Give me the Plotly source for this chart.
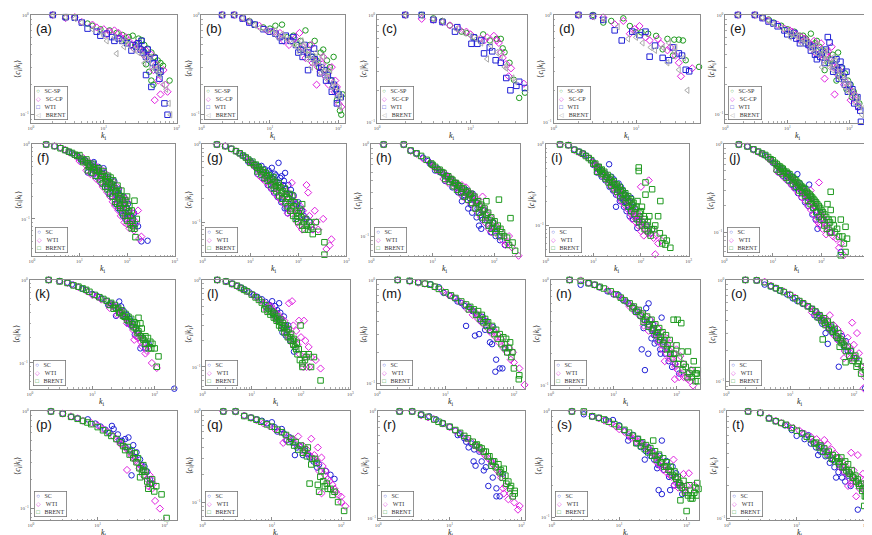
import plotly.graph_objects as go

W, H = 872, 535

# ---- data: (k_i, <c_i|k_i>) ----
# row 1: SC-SP, SC-CP, WTI, BRENT
a_scsp = [(2,1),(3,0.95),(4,0.94),(6,0.82),(7,0.78),(9,0.72),(12,0.7),(15,0.66),(18,0.63),(22,0.6),(25,0.62),(30,0.58),(33,0.56),(36,0.5),(40,0.46),(45,0.42),(50,0.38),(55,0.35),(60,0.33),(65,0.31),(42,0.27),(45,0.22),(48,0.2),(58,0.26),(80,0.22),(38,0.32),(20,0.55),(27,0.5),(35,0.44),(52,0.3)]
a_sccp = [(2,1),(3,0.93),(4,0.95),(5,0.85),(7,0.8),(8,0.75),(10,0.72),(12,0.68),(14,0.7),(17,0.6),(20,0.6),(24,0.5),(28,0.52),(32,0.45),(35,0.4),(40,0.38),(45,0.4),(52,0.32),(56,0.22),(60,0.16),(70,0.2),(75,0.17),(66,0.28),(50,0.14),(30,0.47),(11,0.64),(16,0.66),(22,0.55),(26,0.46),(38,0.44),(48,0.28)]
a_wti = [(2,1),(3,0.95),(4,0.94),(5,0.84),(6,0.73),(8,0.68),(9,0.62),(11,0.65),(13,0.6),(16,0.58),(18,0.55),(21,0.52),(25,0.5),(28,0.48),(30,0.52),(32,0.45),(35,0.42),(38,0.38),(42,0.36),(47,0.33),(52,0.3),(55,0.28),(38,0.25),(60,0.27),(45,0.19),(68,0.13),(75,0.1),(14,0.55),(24,0.44),(33,0.55),(40,0.45),(50,0.37),(58,0.23)]
a_brent = [(2,1),(3,0.95),(4,0.92),(5,0.84),(7,0.72),(9,0.68),(11,0.55),(14,0.6),(17,0.55),(19,0.48),(22,0.5),(26,0.45),(30,0.42),(34,0.4),(38,0.37),(42,0.35),(46,0.3),(52,0.28),(58,0.25),(65,0.2),(72,0.18),(78,0.13),(82,0.1),(15,0.41),(10,0.62),(20,0.56),(28,0.48),(36,0.33),(44,0.38),(55,0.3)]

b_scsp = [(2,1),(3,1),(4,0.93),(5,0.87),(6,0.8),(8,0.75),(10,0.73),(12,0.78),(15,0.8),(18,0.6),(22,0.62),(28,0.55),(30,0.45),(33,0.7),(38,0.5),(42,0.38),(45,0.55),(52,0.3),(55,0.42),(60,0.45),(68,0.35),(72,0.27),(80,0.22),(85,0.38),(90,0.18),(95,0.14),(105,0.11),(115,0.16),(110,0.1),(25,0.5),(35,0.4),(48,0.35),(65,0.28),(75,0.3)]
b_sccp = [(2,1),(3,1),(4,0.93),(5,0.85),(7,0.78),(9,0.7),(11,0.68),(13,0.62),(16,0.55),(19,0.5),(23,0.58),(27,0.66),(30,0.48),(35,0.42),(40,0.5),(45,0.35),(50,0.3),(55,0.27),(60,0.38),(65,0.24),(72,0.2),(80,0.3),(88,0.17),(95,0.19),(100,0.13),(110,0.12),(48,0.2),(14,0.66),(21,0.55),(33,0.37),(42,0.33),(58,0.32),(70,0.26),(90,0.22)]
b_wti = [(2,1),(3,1),(4,0.92),(5,0.84),(6,0.8),(8,0.72),(10,0.68),(12,0.65),(14,0.6),(17,0.62),(20,0.55),(24,0.5),(28,0.45),(32,0.5),(36,0.42),(40,0.38),(44,0.46),(50,0.33),(56,0.3),(62,0.28),(70,0.25),(78,0.22),(85,0.2),(92,0.18),(100,0.16),(108,0.15),(36,0.28),(15,0.55),(22,0.6),(26,0.42),(30,0.38),(45,0.36),(54,0.26),(66,0.22),(80,0.17),(95,0.13)]
b_brent = [(2,1),(3,1),(4,0.93),(5,0.86),(6,0.79),(7,0.74),(9,0.7),(11,0.66),(13,0.6),(15,0.64),(18,0.57),(21,0.52),(25,0.48),(29,0.55),(33,0.44),(37,0.4),(42,0.36),(47,0.42),(52,0.34),(58,0.3),(63,0.27),(70,0.24),(76,0.28),(84,0.21),(92,0.19),(100,0.17),(110,0.15),(40,0.3),(60,0.38),(12,0.7),(16,0.6),(23,0.5),(27,0.42),(31,0.5),(35,0.36),(45,0.33),(55,0.26),(66,0.23),(80,0.19),(95,0.15),(105,0.12)]

c_scsp = [(2,1),(3,1),(4,0.93),(5,0.88),(6,0.8),(8,0.7),(9,0.68),(11,0.62),(13.6,0.66),(16,0.58),(19,0.6),(21,0.6),(22,0.49),(23,0.45),(26,0.36),(29,0.25),(33,0.17),(38,0.19)]
c_sccp = [(2,1),(3,0.92),(4,0.9),(5,0.86),(6,0.8),(7.5,0.74),(9,0.7),(10,0.66),(12.7,0.6),(14,0.58),(15,0.62),(17.7,0.64),(19,0.58),(20,0.55),(21,0.45),(22,0.4),(24,0.35),(25.5,0.27),(27,0.32),(37,0.23)]
c_wti = [(2,1),(3,1),(4,0.9),(5,0.86),(6.8,0.7),(7.2,0.77),(10.2,0.54),(10.8,0.62),(11.8,0.54),(13,0.58),(13.9,0.44),(16,0.5),(17,0.46),(18.5,0.38),(21,0.36),(24,0.26),(26.6,0.2),(30.8,0.22),(33,0.24),(38,0.21)]
c_brent = [(2,1),(3,0.98),(4,0.92),(5,0.87),(7,0.74),(8.5,0.68),(10,0.64),(11.5,0.6),(13,0.55),(15,0.39),(16.5,0.52),(19,0.45),(21,0.42),(23,0.33),(24,0.32),(28,0.26),(30,0.24)]

d_scsp = [(2,1),(3,1),(4,0.85),(5,0.88),(7,0.93),(8.4,0.79),(9.9,0.69),(11.6,0.69),(14,0.67),(17.5,0.64),(21,0.48),(24,0.6),(29,0.59),(33,0.59),(37,0.58),(40,0.38),(58,0.33),(28,0.42)]
d_sccp = [(2,1),(3,0.97),(4,0.95),(5.5,0.82),(7,0.88),(8.4,0.67),(9.6,0.74),(11,0.79),(13,0.62),(14.6,0.58),(18.4,0.6),(20,0.54),(24,0.47),(30,0.42),(33,0.36),(35,0.27),(48,0.32),(26,0.5)]
d_wti = [(2,1),(3,0.98),(4,0.9),(5.5,0.72),(6.7,0.58),(9,0.7),(11,0.65),(13,0.7),(14.6,0.41),(17,0.52),(21,0.4),(25,0.38),(28,0.5),(33,0.44),(36,0.42),(40,0.31),(44,0.3)]
d_brent = [(2,1),(3,0.96),(4,0.91),(6,0.78),(8,0.6),(10,0.62),(12,0.55),(15,0.5),(17,0.47),(21,0.5),(24,0.36),(25,0.55),(29,0.45),(30,0.5),(33,0.31),(38,0.4),(42,0.2)]

e_scsp = [(1.6,1),(3,1),(4,0.95),(5,0.9),(6,0.84),(8,0.78),(10,0.72),(13,0.68),(16,0.62),(20,0.58),(24,0.65),(28,0.52),(33,0.48),(38,0.44),(44,0.4),(50,0.36),(58,0.32),(66,0.42),(75,0.3),(85,0.26),(95,0.22),(105,0.2),(118,0.17),(130,0.15),(145,0.13),(40,0.28),(62,0.22),(12,0.64),(18,0.62),(22,0.52),(30,0.55),(36,0.4),(46,0.33),(54,0.4),(70,0.25),(90,0.18),(110,0.15)]
e_sccp = [(1.6,1),(3,1),(4,0.94),(5,0.88),(7,0.8),(9,0.73),(11,0.7),(14,0.64),(17,0.6),(21,0.55),(25,0.5),(30,0.46),(35,0.52),(40,0.23),(42,0.4),(48,0.37),(52,0.48),(58,0.16),(62,0.3),(70,0.28),(78,0.25),(88,0.21),(98,0.19),(110,0.17),(125,0.14),(140,0.12),(28,0.42),(12,0.68),(16,0.56),(19,0.58),(23,0.48),(27,0.55),(33,0.4),(38,0.36),(45,0.43),(55,0.3),(66,0.25),(82,0.2),(105,0.14),(120,0.16)]
e_wti = [(1.6,1),(3,1),(4,0.93),(5,0.86),(6,0.82),(7,0.77),(9,0.7),(12,0.62),(14,0.58),(18,0.56),(22,0.5),(26,0.48),(31,0.44),(36,0.42),(45,0.6),(48,0.53),(52,0.35),(58,0.31),(65,0.28),(72,0.34),(80,0.24),(90,0.27),(100,0.2),(112,0.18),(125,0.15),(140,0.12),(154,0.085),(30,0.36),(10,0.64),(13,0.66),(16,0.52),(20,0.52),(24,0.44),(28,0.4),(34,0.38),(40,0.33),(42,0.45),(55,0.27),(62,0.36),(68,0.23),(76,0.29),(85,0.2),(95,0.17),(120,0.13),(135,0.15),(150,0.11)]
e_brent = [(1.6,1),(3,1),(4,0.94),(5,0.87),(6,0.81),(8,0.74),(10,0.68),(12,0.65),(15,0.6),(18,0.56),(22,0.52),(26,0.47),(30,0.5),(35,0.44),(40,0.4),(45,0.36),(50,0.33),(56,0.38),(62,0.3),(70,0.27),(80,0.25),(90,0.22),(100,0.2),(115,0.17),(130,0.15),(150,0.12),(215,0.1),(36,0.3),(11,0.6),(14,0.62),(17,0.52),(20,0.55),(24,0.46),(28,0.42),(32,0.4),(38,0.35),(42,0.44),(48,0.3),(54,0.28),(60,0.35),(66,0.25),(75,0.22),(85,0.19),(95,0.17),(110,0.15),(125,0.13),(140,0.14),(160,0.1),(180,0.12)]

# rows 2-4: SC, WTI, BRENT
f_sc = [(2,1),(3,0.95),(4,0.9),(5,0.84),(6,0.8),(7,0.76),(8,0.72),(10,0.66),(12,0.6),(14,0.57),(17,0.53),(20,0.5),(23,0.46),(26,0.44),(30,0.4),(35,0.34),(40,0.36),(45,0.3),(50,0.27),(54,0.32),(60,0.24),(70,0.21),(80,0.18),(90,0.16),(100,0.14),(110,0.12),(120,0.11),(135,0.1),(150,0.085),(200,0.05),(270,0.051),(450,0.031),(38,0.27),(65,0.18),(9,0.7),(11,0.6),(13,0.62),(16,0.5),(18,0.56),(22,0.44),(25,0.5),(28,0.38),(33,0.42),(37,0.31),(43,0.34),(47,0.25),(52,0.29),(58,0.21),(67,0.25),(75,0.16),(85,0.2),(95,0.12),(105,0.16),(125,0.09),(140,0.12),(170,0.08)] + \
       [(15,0.42),(19,0.4),(24,0.36),(29,0.3),(34,0.27),(41,0.22),(48,0.2),(56,0.16),(64,0.14),(72,0.13),(82,0.11),(92,0.1),(32,0.48),(20,0.58)]
f_wti = [(2,1),(3,0.95),(4,0.9),(5,0.85),(6,0.79),(8,0.72),(9,0.68),(11,0.62),(13,0.58),(15,0.55),(18,0.5),(21,0.48),(24,0.44),(28,0.42),(32,0.38),(36,0.33),(42,0.3),(48,0.28),(55,0.25),(62,0.22),(70,0.2),(78,0.17),(85,0.15),(95,0.13),(105,0.11),(115,0.09),(125,0.08),(140,0.07),(170,0.13),(180,0.054),(200,0.058),(58,0.16),(90,0.19),(10,0.6),(12,0.66),(14,0.52),(16,0.58),(19,0.46),(23,0.5),(26,0.4),(30,0.45),(34,0.35),(38,0.39),(45,0.27),(52,0.31),(60,0.2),(66,0.26),(75,0.14),(82,0.2),(92,0.11),(100,0.17),(110,0.13),(120,0.1),(130,0.12),(155,0.09)] + \
        [(14,0.45),(17,0.4),(22,0.35),(27,0.31),(31,0.27),(38,0.23),(44,0.2),(50,0.17),(56,0.15),(66,0.13),(74,0.11),(88,0.09),(100,0.085),(112,0.075)]
f_brent = [(2,1),(3,0.95),(4,0.89),(5,0.84),(6,0.8),(7,0.77),(8,0.73),(9,0.7),(11,0.64),(13,0.6),(15,0.56),(17,0.52),(20,0.49),(23,0.46),(26,0.43),(30,0.4),(34,0.37),(38,0.34),(43,0.31),(48,0.29),(54,0.26),(60,0.24),(66,0.22),(73,0.2),(80,0.18),(88,0.16),(97,0.14),(107,0.125),(118,0.11),(130,0.095),(143,0.074),(150,0.057),(143,0.176),(70,0.15),(45,0.36),(100,0.2),(10,0.72),(12,0.58),(14,0.63),(16,0.5),(19,0.55),(21,0.45),(25,0.48),(28,0.38),(32,0.44),(36,0.32),(40,0.38),(46,0.27),(51,0.33),(57,0.23),(63,0.28),(69,0.19),(76,0.24),(84,0.14),(92,0.18),(103,0.11),(112,0.15),(125,0.13),(160,0.1),(135,0.08)] + \
          [(15,0.45),(18,0.42),(22,0.38),(27,0.34),(31,0.3),(35,0.27),(39,0.25),(44,0.22),(50,0.2),(56,0.17),(62,0.16),(72,0.14),(80,0.12),(90,0.11),(100,0.095),(115,0.085),(125,0.075)]

g_sc = [(2,1),(3,0.96),(4,0.88),(5,0.82),(6,0.77),(7,0.72),(8,0.68),(10,0.62),(12.7,0.55),(15,0.52),(17,0.53),(20,0.48),(24,0.46),(28,0.5),(32,0.42),(38.6,0.58),(42,0.37),(45,0.39),(50,0.34),(53,0.43),(57,0.15),(62,0.3),(70,0.26),(80,0.22),(92,0.11),(100,0.18),(120,0.14),(150,0.11),(200,0.08),(35,0.33),(26,0.36),(9,0.6),(11,0.58),(13,0.5),(16,0.48),(18,0.44),(22,0.41),(26,0.42),(30,0.36),(34,0.4),(40,0.32),(48,0.3),(55,0.27),(66,0.23),(75,0.19),(90,0.17),(110,0.15),(130,0.12),(170,0.1)] + \
       [(14,0.42),(19,0.36),(23,0.3),(27,0.27),(31,0.24),(37,0.21),(44,0.18),(52,0.15),(60,0.13),(47,0.2)]
g_wti = [(2,1),(3,0.95),(4,0.88),(5,0.82),(6,0.76),(8,0.68),(10,0.6),(12,0.55),(14,0.5),(17,0.46),(20,0.42),(24,0.38),(28,0.34),(33,0.3),(38,0.28),(45,0.25),(55,0.22),(65,0.2),(73,0.32),(85,0.17),(100,0.14),(115,0.12),(130,0.1),(148,0.3),(160,0.24),(180,0.09),(220,0.14),(260,0.08),(330,0.11),(385,0.045),(450,0.05),(490,0.06),(60,0.13),(9,0.62),(11,0.55),(13,0.5),(16,0.44),(19,0.4),(22,0.36),(26,0.33),(30,0.35),(35,0.27),(42,0.3),(50,0.22),(58,0.25),(70,0.17),(78,0.21),(90,0.13),(110,0.16),(125,0.14),(140,0.11),(170,0.12),(200,0.08),(240,0.1)] + \
        [(15,0.4),(18,0.36),(21,0.33),(25,0.29),(29,0.26),(33,0.23),(38,0.21),(44,0.19),(52,0.17),(62,0.15),(72,0.13),(95,0.1),(105,0.09),(120,0.08)]
g_brent = [(2,1),(3,0.95),(4,0.88),(5,0.82),(6,0.77),(7,0.72),(8,0.68),(9,0.64),(11,0.6),(13,0.55),(15,0.51),(18,0.47),(21,0.43),(24,0.4),(28,0.36),(32,0.33),(37,0.3),(42,0.28),(48,0.25),(55,0.23),(62,0.2),(70,0.18),(80,0.16),(90,0.14),(102,0.13),(115,0.115),(130,0.1),(150,0.09),(185,0.086),(230,0.1),(260,0.075),(350,0.055),(350,0.038),(75,0.22),(120,0.17),(10,0.58),(12,0.54),(14,0.5),(16,0.47),(19,0.44),(22,0.39),(26,0.35),(30,0.38),(34,0.29),(39,0.32),(45,0.24),(52,0.27),(58,0.21),(66,0.23),(72,0.15),(85,0.18),(95,0.12),(110,0.14),(140,0.11),(160,0.08),(200,0.07),(170,0.1)] + \
          [(14,0.45),(17,0.41),(20,0.37),(23,0.34),(27,0.3),(31,0.27),(35,0.25),(40,0.22),(46,0.2),(54,0.18),(60,0.16),(68,0.14),(78,0.12),(88,0.11),(100,0.1),(120,0.09),(135,0.08)]

h_sc = [(1.6,1),(3.4,1),(4.4,0.86),(5.5,0.8),(7,0.72),(8.5,0.66),(10,0.6),(12,0.55),(14,0.5),(17,0.46),(20,0.42),(24,0.38),(27,0.35),(31,0.27),(35,0.32),(40,0.26),(45,0.29),(50,0.24),(54,0.2),(57,0.13),(60,0.17),(70,0.19),(78,0.157),(88,0.11),(95,0.14),(106,0.1),(125,0.09),(150,0.08),(9,0.62),(11,0.52),(13,0.5),(15,0.47),(18,0.42),(22,0.38),(25,0.34),(29,0.3),(33,0.28),(37,0.3),(42,0.22),(47,0.25),(65,0.15),(80,0.13),(100,0.12)] + \
       [(16,0.4),(21,0.34),(26,0.3),(30,0.24),(38,0.2),(44,0.18),(52,0.16),(62,0.12)]
h_wti = [(1.6,1),(3.4,1),(4.4,0.85),(5.5,0.79),(7,0.7),(9,0.63),(11,0.56),(13,0.52),(16,0.48),(19,0.44),(22,0.4),(26,0.37),(30,0.36),(35,0.34),(40,0.3),(46,0.28),(52,0.25),(60,0.22),(68,0.2),(78,0.18),(88,0.16),(100,0.14),(115,0.125),(130,0.11),(153,0.08),(175,0.1),(196,0.075),(250,0.061),(65,0.27),(10,0.58),(12,0.52),(14,0.5),(17,0.44),(20,0.4),(24,0.36),(28,0.33),(32,0.3),(37,0.28),(43,0.27),(49,0.24),(56,0.22),(64,0.19),(72,0.17),(83,0.15),(95,0.13),(108,0.12),(120,0.1),(140,0.09),(160,0.085)] + \
        [(15,0.42),(18,0.38),(23,0.34),(27,0.3),(31,0.27),(36,0.25),(42,0.23),(48,0.2),(55,0.18),(62,0.16),(72,0.14),(82,0.12),(92,0.11)]
h_brent = [(1.6,1),(3.4,1),(4.4,0.86),(5.5,0.8),(6.5,0.75),(8,0.68),(9.5,0.62),(11,0.57),(13,0.53),(15,0.49),(18,0.45),(21,0.41),(24,0.38),(28,0.35),(32,0.33),(37,0.31),(42,0.29),(48,0.27),(55,0.24),(62,0.22),(70,0.2),(80,0.18),(90,0.16),(102,0.145),(115,0.13),(127,0.12),(145,0.1),(163,0.096),(185,0.157),(200,0.085),(220,0.069),(120,0.25),(75,0.24),(10,0.6),(12,0.53),(14,0.5),(17,0.45),(20,0.42),(23,0.38),(26,0.36),(30,0.33),(35,0.3),(40,0.28),(45,0.26),(52,0.23),(58,0.21),(66,0.19),(75,0.17),(85,0.15),(95,0.14),(110,0.12),(135,0.11),(175,0.08)] + \
          [(16,0.42),(19,0.39),(22,0.35),(25,0.32),(29,0.3),(33,0.27),(38,0.25),(44,0.23),(50,0.2),(57,0.18),(64,0.16),(72,0.15),(82,0.13),(92,0.12),(105,0.11),(125,0.1)]

i_sc = [(2,1),(3,0.98),(4,0.87),(5,0.82),(6,0.78),(7,0.73),(8,0.68),(9.7,0.62),(11,0.57),(13,0.53),(15,0.48),(18,0.44),(21.5,0.57),(24,0.4),(27,0.37),(30,0.17),(34,0.33),(38,0.3),(42,0.27),(48,0.24),(55,0.2),(62,0.22),(70,0.17),(84,0.093),(95,0.13),(110,0.11),(130,0.1),(160,0.08),(36,0.2),(10,0.56),(12,0.5),(14,0.46),(16,0.43),(19,0.39),(22,0.36),(26,0.33),(29,0.3),(33,0.27),(40,0.22),(45,0.2),(52,0.18),(60,0.15),(75,0.13),(90,0.11)] + \
       [(12,0.45),(15,0.4),(18,0.36),(22,0.3),(26,0.27),(30,0.24),(36,0.22),(44,0.17),(50,0.15),(58,0.13),(68,0.12)]
i_wti = [(2,1),(3,0.98),(4,0.85),(5,0.8),(6,0.76),(8,0.68),(10,0.6),(12,0.55),(14,0.5),(17,0.45),(20,0.4),(24,0.36),(28,0.33),(33,0.3),(38,0.27),(44,0.24),(50,0.22),(58,0.2),(66,0.18),(75,0.16),(85,0.14),(97,0.13),(110,0.11),(125,0.1),(146,0.36),(160,0.08),(185,0.07),(200,0.044),(230,0.06),(270,0.065),(100,0.3),(65,0.12),(11,0.55),(13,0.5),(16,0.43),(18,0.4),(22,0.36),(26,0.32),(30,0.3),(35,0.26),(40,0.24),(47,0.21),(55,0.19),(62,0.16),(70,0.15),(80,0.13),(90,0.12),(105,0.1),(120,0.09),(140,0.08),(175,0.09),(210,0.075)] + \
        [(13,0.45),(15,0.42),(18,0.37),(22,0.32),(25,0.29),(29,0.26),(34,0.23),(39,0.2),(45,0.18),(52,0.16),(60,0.14),(68,0.13),(78,0.11),(88,0.1),(100,0.085),(115,0.075)]
i_brent = [(2,1),(3,0.98),(4,0.86),(5,0.81),(6,0.77),(7,0.72),(8,0.68),(9,0.64),(11,0.58),(13,0.53),(15,0.49),(17,0.46),(20,0.42),(23,0.39),(27,0.35),(31,0.32),(36,0.3),(41,0.27),(47,0.25),(54,0.23),(62,0.21),(70,0.19),(80,0.17),(90,0.52),(90,0.47),(100,0.15),(115,0.13),(125,0.34),(125,0.24),(140,0.11),(172,0.28),(190,0.09),(256,0.2),(300,0.07),(326,0.058),(415,0.053),(230,0.13),(10,0.58),(12,0.52),(14,0.48),(16,0.44),(19,0.4),(22,0.37),(25,0.34),(29,0.32),(33,0.29),(38,0.27),(44,0.24),(50,0.22),(58,0.2),(66,0.18),(75,0.16),(85,0.2),(95,0.14),(105,0.17),(120,0.12),(135,0.1),(150,0.13),(170,0.09),(200,0.1),(250,0.08),(350,0.065),(280,0.06)] + \
          [(12,0.46),(15,0.43),(18,0.38),(21,0.34),(24,0.31),(28,0.28),(32,0.26),(37,0.23),(42,0.21),(48,0.19),(55,0.17),(63,0.15),(72,0.14),(82,0.12),(92,0.11),(105,0.1),(120,0.09),(140,0.085),(160,0.075)]

j_sc = [(2,1),(3,0.95),(4,0.88),(5,0.83),(6,0.79),(7,0.75),(9,0.68),(11,0.6),(13,0.56),(16,0.52),(19,0.48),(22,0.45),(26,0.42),(32,0.46),(36,0.36),(42,0.32),(48,0.28),(56,0.35),(62,0.24),(72,0.2),(83,0.11),(95,0.17),(110,0.14),(130,0.12),(160,0.1),(250,0.06),(30,0.33),(10,0.62),(12,0.57),(14,0.52),(17,0.47),(20,0.43),(24,0.4),(28,0.37),(33,0.33),(38,0.3),(45,0.27),(52,0.25),(60,0.22),(68,0.19),(80,0.17),(90,0.15)] + \
       [(13,0.48),(16,0.44),(20,0.39),(24,0.35),(28,0.32),(33,0.28),(39,0.25),(46,0.22),(54,0.2),(65,0.16),(76,0.14)]
j_wti = [(2,1),(3,0.95),(4,0.87),(5,0.82),(6,0.78),(8,0.7),(10,0.63),(12,0.57),(14,0.53),(17,0.49),(20,0.45),(24,0.41),(28,0.38),(33,0.35),(38,0.32),(44,0.29),(50,0.27),(58,0.24),(66,0.22),(75,0.2),(89,0.37),(100,0.16),(115,0.14),(130,0.12),(150,0.1),(175,0.09),(230,0.067),(290,0.055),(60,0.3),(85,0.13),(9,0.66),(11,0.6),(13,0.55),(15,0.5),(18,0.46),(22,0.42),(26,0.39),(30,0.36),(35,0.33),(40,0.3),(47,0.27),(54,0.25),(62,0.22),(70,0.2),(80,0.18),(90,0.16),(105,0.15),(120,0.13),(140,0.11),(160,0.1),(200,0.085),(250,0.075)] + \
        [(12,0.5),(14,0.47),(17,0.42),(21,0.38),(25,0.34),(29,0.31),(34,0.28),(40,0.25),(46,0.23),(53,0.2),(61,0.18),(70,0.16),(80,0.14),(92,0.12),(105,0.11),(125,0.095)]
j_brent = [(2,1),(3,0.95),(4,0.88),(5,0.83),(6,0.79),(7,0.76),(8,0.72),(10,0.66),(12,0.6),(14,0.56),(16,0.53),(19,0.49),(22,0.46),(26,0.42),(30,0.39),(35,0.36),(40,0.33),(46,0.31),(53,0.28),(60,0.26),(68,0.24),(77,0.22),(88,0.2),(100,0.18),(115,0.16),(133,0.21),(140,0.14),(155,0.29),(155,0.18),(180,0.12),(210,0.11),(250,0.14),(270,0.09),(313,0.116),(336,0.085),(313,0.06),(250,0.055),(9,0.68),(11,0.62),(13,0.57),(15,0.54),(17,0.5),(20,0.47),(24,0.43),(28,0.4),(32,0.37),(37,0.34),(43,0.32),(50,0.29),(57,0.27),(64,0.25),(72,0.23),(82,0.21),(94,0.19),(107,0.17),(125,0.15),(150,0.13),(170,0.14),(190,0.1),(230,0.09),(290,0.075)] + \
          [(12,0.52),(14,0.49),(16,0.46),(19,0.42),(22,0.39),(26,0.36),(30,0.33),(35,0.3),(40,0.28),(46,0.26),(53,0.23),(60,0.21),(68,0.19),(78,0.17),(88,0.15),(100,0.14),(115,0.12),(130,0.11),(150,0.1)]

k_sc = [(2,1),(3,0.97),(4,0.93),(4.7,0.88),(6,0.82),(7,0.78),(8,0.75),(10,0.68),(12,0.64),(14,0.6),(17,0.56),(20,0.52),(24,0.37),(27,0.55),(29,0.48),(32,0.42),(36,0.38),(40,0.34),(45,0.3),(50,0.26),(55,0.23),(59,0.15),(65,0.2),(71,0.15),(80,0.17),(206,0.049),(22,0.48),(26,0.45),(34,0.35),(38,0.3),(18,0.5),(30,0.38),(42,0.28),(48,0.22)]
k_wti = [(2,1),(3,0.96),(4,0.92),(5,0.87),(6,0.82),(8,0.74),(10,0.66),(12,0.63),(14,0.58),(17,0.55),(20,0.5),(23,0.46),(26,0.42),(30,0.4),(34,0.35),(38,0.32),(43,0.28),(47,0.19),(52,0.24),(58,0.22),(65,0.19),(71,0.13),(80,0.16),(90,0.1),(108,0.087),(22,0.5),(28,0.44),(32,0.36),(40,0.3),(45,0.25),(55,0.2),(62,0.16),(19,0.46),(25,0.38),(36,0.3),(50,0.21),(60,0.18),(75,0.14)]
k_brent = [(2,1),(3,0.96),(4,0.92),(5,0.86),(6,0.83),(7,0.79),(8,0.76),(9,0.72),(11,0.66),(13,0.62),(15,0.59),(17,0.56),(20,0.53),(23,0.5),(26,0.46),(30,0.43),(34,0.39),(38,0.36),(42,0.34),(47,0.31),(52,0.29),(59,0.3),(62,0.26),(71,0.21),(78,0.2),(85,0.18),(92,0.17),(100,0.15),(108,0.09),(115,0.12),(55,0.35),(24,0.46),(28,0.41),(33,0.36),(36,0.33),(44,0.29),(50,0.26),(55,0.24),(60,0.21),(66,0.19),(72,0.17),(80,0.15)] + \
          [(19,0.5),(22,0.45),(27,0.4),(31,0.37),(39,0.32),(46,0.27),(53,0.23),(64,0.2),(70,0.17),(88,0.15)]

l_sc = [(2,1),(3,0.97),(4,0.91),(5,0.85),(6,0.82),(7,0.78),(9,0.72),(11,0.67),(13,0.64),(16,0.6),(19,0.56),(22,0.52),(26,0.57),(30,0.5),(36,0.54),(38,0.42),(42,0.25),(49,0.23),(55,0.3),(60,0.2),(72,0.15),(45,0.38),(24,0.48),(28,0.44),(33,0.45),(40,0.36),(47,0.3),(52,0.27),(20,0.48),(27,0.4),(34,0.36),(44,0.28)]
l_wti = [(2,1),(3,0.96),(4,0.9),(5,0.85),(6,0.8),(8,0.74),(10,0.68),(12,0.64),(15,0.58),(18,0.54),(22,0.5),(26,0.46),(30,0.43),(35,0.4),(40,0.36),(46,0.34),(57,0.54),(66,0.57),(70,0.3),(80,0.26),(91,0.34),(100,0.22),(115,0.34),(123,0.2),(143,0.17),(160,0.13),(200,0.12),(250,0.096),(340,0.056),(110,0.1),(25,0.5),(30,0.4),(35,0.36),(45,0.3),(52,0.27),(60,0.24),(75,0.2),(85,0.18),(95,0.14),(130,0.1),(150,0.1)] + \
        [(20,0.45),(28,0.38),(33,0.34),(42,0.28),(50,0.24),(58,0.21),(70,0.18),(120,0.13)]
l_brent = [(2,1),(3,0.96),(4,0.9),(5,0.86),(6,0.81),(7,0.77),(8,0.74),(10,0.68),(12,0.63),(14,0.59),(16,0.55),(19,0.51),(22,0.47),(25,0.44),(29,0.41),(33,0.38),(38,0.35),(43,0.32),(49,0.3),(56,0.27),(63,0.24),(72,0.21),(82,0.19),(98,0.3),(107,0.11),(115,0.14),(130,0.13),(143,0.14),(183,0.13),(250,0.07),(107,0.1),(90,0.16),(27,0.42),(31,0.36),(36,0.33),(41,0.3),(46,0.28),(52,0.25),(60,0.22),(68,0.2),(76,0.17),(85,0.14),(95,0.12),(120,0.12),(160,0.1)] + \
          [(18,0.46),(21,0.43),(24,0.4),(28,0.37),(32,0.34),(36,0.3),(40,0.28),(46,0.25),(54,0.22),(62,0.2),(70,0.18),(80,0.16)]

m_sc = [(2,1),(3,0.98),(4,0.95),(6,0.91),(8,0.85),(9.4,0.75),(11.7,0.7),(14,0.66),(17,0.6),(20,0.36),(22,0.55),(25,0.5),(27,0.29),(31,0.3),(35,0.44),(40,0.4),(44.7,0.25),(50,0.35),(53.6,0.13),(55,0.17),(62,0.14),(68,0.14),(75,0.22),(15,0.62),(19,0.56),(24,0.52),(29,0.46),(33,0.4),(38,0.33),(45,0.32),(48,0.24)]
m_wti = [(2,1),(3,0.97),(4,0.94),(5,0.92),(7,0.86),(9,0.78),(11,0.72),(13,0.68),(16,0.62),(19,0.58),(23,0.53),(27,0.49),(32,0.45),(37,0.41),(43,0.37),(50,0.33),(57,0.3),(65,0.27),(75,0.24),(85,0.22),(97,0.2),(100,0.16),(108,0.089),(120,0.14),(143,0.097),(21,0.52),(25,0.46),(30,0.42),(35,0.38),(40,0.35),(46,0.31),(54,0.28),(60,0.25),(70,0.22),(80,0.2),(90,0.17)]
m_brent = [(2,1),(3,0.98),(4,0.95),(5,0.92),(6,0.9),(7,0.86),(8,0.82),(10,0.76),(12,0.71),(14,0.67),(17,0.62),(20,0.58),(23,0.55),(26,0.52),(30,0.5),(34,0.46),(38,0.42),(42,0.39),(48,0.36),(55,0.33),(62,0.3),(70,0.28),(77,0.27),(85,0.22),(92,0.18),(100,0.14),(120,0.12),(118,0.11),(22,0.52),(28,0.46),(32,0.42),(36,0.39),(40,0.36),(45,0.33),(52,0.3),(58,0.27),(66,0.24),(74,0.22),(80,0.2),(88,0.25),(95,0.2)]

n_sc = [(2,1),(3,0.9),(4,0.93),(5,0.9),(6,0.85),(8,0.78),(10,0.73),(12,0.72),(14,0.65),(17,0.6),(20,0.56),(24,0.5),(28,0.22),(31.5,0.14),(33,0.54),(36,0.6),(35.6,0.2),(38,0.42),(42,0.38),(46,0.32),(52,0.3),(58,0.44),(62,0.26),(70,0.23),(80,0.2),(95,0.16),(110,0.13),(30,0.35),(40,0.28),(16,0.62),(22,0.5),(26,0.46),(30,0.42),(34,0.4),(40,0.34),(44,0.3),(50,0.26),(55,0.22),(66,0.2),(75,0.17),(45,0.25),(56,0.2),(85,0.15)]
n_wti = [(2,1),(3,0.99),(4,0.94),(5,0.9),(6,0.86),(8,0.8),(10,0.74),(12,0.7),(14,0.66),(17,0.6),(20,0.56),(24,0.52),(28,0.48),(33,0.45),(38,0.42),(44,0.38),(50,0.35),(57,0.32),(65,0.17),(70,0.28),(80,0.25),(94,0.115),(100,0.22),(115,0.19),(130,0.16),(152,0.115),(170,0.14),(183,0.1),(60,0.24),(90,0.2),(18,0.56),(22,0.5),(26,0.46),(30,0.42),(36,0.38),(41,0.35),(47,0.31),(54,0.28),(62,0.25),(74,0.22),(85,0.18),(95,0.16),(105,0.14),(120,0.13),(140,0.12),(165,0.11)] + \
        [(30,0.37),(36,0.33),(45,0.3),(52,0.26),(60,0.22),(70,0.2),(80,0.18),(95,0.15),(110,0.12),(130,0.12),(150,0.13)]
n_brent = [(2,1),(3,0.98),(4,0.93),(5,0.9),(6,0.86),(7,0.83),(9,0.78),(11,0.73),(13,0.68),(15,0.64),(18,0.6),(21,0.56),(25,0.52),(29,0.48),(34,0.45),(40,0.42),(46,0.38),(53,0.35),(60,0.32),(68,0.3),(78,0.27),(90,0.42),(104,0.42),(119,0.39),(100,0.24),(120,0.21),(152,0.21),(188,0.17),(218,0.14),(218,0.11),(193,0.093),(140,0.15),(20,0.54),(23,0.5),(27,0.46),(32,0.42),(37,0.38),(43,0.35),(50,0.32),(56,0.29),(64,0.27),(72,0.24),(82,0.22),(92,0.2),(110,0.18),(130,0.16),(160,0.13),(175,0.12),(200,0.11),(210,0.13)] + \
          [(30,0.4),(36,0.36),(42,0.33),(48,0.3),(55,0.27),(62,0.25),(70,0.22),(80,0.2),(90,0.18),(105,0.16),(125,0.14),(150,0.12),(180,0.14),(200,0.13)]

o_sc = [(2,1),(3,0.99),(4,0.9),(5,0.86),(6,0.82),(7,0.78),(9,0.72),(11,0.66),(13,0.62),(16,0.58),(19,0.55),(22,0.52),(26,0.48),(30,0.44),(34,0.4),(39,0.235),(44,0.35),(50,0.32),(58,0.14),(65,0.28),(75,0.25),(90,0.2),(110,0.17),(150,0.086),(36,0.3),(24,0.45),(28,0.42),(32,0.37),(40,0.33),(46,0.3),(55,0.26),(70,0.22),(80,0.2)]
o_wti = [(2,1),(3,0.99),(4,0.96),(5,0.88),(6,0.83),(8,0.77),(10,0.72),(12,0.67),(14,0.62),(17,0.58),(20,0.54),(24,0.5),(28,0.46),(32,0.42),(37,0.4),(42,0.45),(48,0.36),(55,0.33),(62,0.3),(70,0.17),(80,0.27),(94,0.38),(100,0.23),(112,0.3),(120,0.19),(134,0.125),(142,0.086),(160,0.15),(85,0.22),(22,0.48),(26,0.44),(30,0.41),(35,0.37),(40,0.34),(45,0.31),(52,0.29),(60,0.26),(68,0.24),(76,0.22),(90,0.19),(105,0.17),(130,0.14),(150,0.11)] + \
        [(38,0.35),(50,0.28),(58,0.25),(72,0.2),(88,0.17),(100,0.16)]
o_brent = [(2,1),(3,0.99),(4,0.95),(5,0.87),(6,0.83),(7,0.79),(8,0.76),(10,0.71),(12,0.66),(14,0.62),(16,0.59),(19,0.55),(22,0.52),(25,0.49),(29,0.45),(32.5,0.26),(34,0.42),(39,0.39),(44,0.36),(50,0.33),(57,0.3),(66,0.25),(74,0.155),(80,0.22),(90,0.2),(105,0.18),(120,0.16),(140,0.14),(170,0.135),(180,0.088),(190,0.11),(60,0.22),(27,0.43),(31,0.4),(36,0.36),(41,0.34),(47,0.31),(53,0.28),(62,0.26),(70,0.23),(85,0.18),(95,0.16),(110,0.14),(130,0.12),(160,0.11),(190,0.09)] + \
          [(35,0.38),(45,0.32),(56,0.27),(64,0.24),(75,0.2),(100,0.17),(115,0.15),(150,0.13)]

p_sc = [(2,1),(3,0.95),(4,0.88),(5,0.85),(7.1,0.83),(9.2,0.75),(11,0.7),(13,0.65),(16.3,0.71),(17.3,0.66),(20,0.58),(23,0.5),(25.7,0.52),(28.8,0.54),(32,0.22),(34,0.45),(38,0.38),(43,0.32),(50,0.27),(55,0.24),(60,0.2),(64,0.18),(150,0.073),(15,0.6),(21,0.5),(26,0.43),(30,0.4),(36,0.34),(45,0.28)]
p_wti = [(2,1),(3,0.95),(4,0.89),(5,0.85),(6,0.8),(8,0.76),(10,0.72),(12,0.66),(14,0.62),(17,0.56),(20,0.5),(24,0.45),(27.4,0.25),(30,0.38),(35,0.33),(40,0.29),(45,0.27),(50,0.24),(57,0.17),(63,0.2),(68,0.18),(72,0.12),(85,0.1),(22,0.46),(26,0.42),(32,0.35),(37,0.31),(42,0.26),(48,0.22),(55,0.2),(60,0.22),(65,0.16)]
p_brent = [(2,1),(3,0.95),(4,0.88),(5,0.84),(6,0.8),(7,0.77),(8,0.74),(10,0.69),(12,0.64),(14,0.6),(16,0.56),(19,0.52),(22,0.48),(25.7,0.4),(28,0.43),(32,0.39),(36,0.37),(40,0.33),(43,0.21),(48,0.28),(48,0.25),(52,0.24),(57,0.16),(65,0.2),(75,0.17),(90,0.14),(107,0.08),(24,0.44),(30,0.36),(34,0.33),(38,0.3),(42,0.26),(46,0.24),(50,0.22),(55,0.19),(60,0.18),(70,0.15)]

q_sc = [(2,1),(3,1),(4,0.9),(5,0.86),(6,0.82),(7.2,0.79),(8.5,0.74),(10,0.76),(11,0.67),(13.9,0.64),(15,0.57),(16.3,0.48),(18,0.52),(21.5,0.33),(25,0.42),(30,0.37),(35,0.31),(40,0.28),(48,0.26),(60,0.22),(70,0.2),(80,0.18),(12,0.6),(20,0.45),(23,0.4),(28,0.33),(33,0.34),(45,0.24)]
q_wti = [(2,1),(3,1),(4,0.9),(5,0.85),(6,0.8),(7.5,0.74),(9,0.7),(11,0.64),(13,0.6),(14.6,0.45),(17,0.53),(20,0.49),(24,0.53),(28,0.42),(32,0.38),(37,0.5),(41,0.33),(46,0.4),(52,0.31),(54,0.25),(52,0.125),(60,0.22),(64,0.18),(75,0.155),(84,0.13),(100,0.115),(100,0.1),(115,0.09),(135,0.063),(16,0.48),(22,0.44),(26,0.4),(30,0.35),(35,0.33),(40,0.3),(45,0.28),(48,0.22),(58,0.2),(68,0.17),(80,0.14),(90,0.12)]
q_brent = [(2,1),(3,1),(4,0.89),(5,0.85),(6,0.81),(7,0.77),(8.5,0.72),(10,0.68),(12,0.63),(14,0.59),(16,0.55),(19,0.5),(22,0.46),(26,0.42),(30,0.38),(33,0.4),(37,0.26),(42,0.3),(35,0.16),(46,0.155),(48,0.13),(52,0.22),(58,0.15),(64,0.14),(75,0.12),(90,0.1),(110,0.08),(18,0.46),(21,0.42),(24,0.38),(28,0.35),(32,0.32),(38,0.3),(44,0.27),(50,0.19),(55,0.17),(62,0.16),(70,0.14),(80,0.13)]

r_sc = [(2,1),(3,1),(4,0.94),(5.2,0.9),(6.5,0.84),(8,0.78),(10,0.72),(12,0.66),(14,0.61),(16,0.56),(18.4,0.46),(20,0.5),(21.6,0.34),(23,0.31),(26,0.42),(30,0.28),(34.7,0.2),(38,0.34),(45,0.19),(45,0.16),(50,0.16),(55,0.26),(13,0.6),(17,0.52),(22,0.44),(28,0.34),(32,0.3),(40,0.24)]
r_wti = [(2,1),(3,1),(4,0.92),(5,0.88),(6,0.85),(8,0.77),(10,0.71),(12,0.66),(14,0.62),(17,0.56),(20,0.52),(24,0.47),(27,0.44),(30,0.4),(35,0.36),(40,0.32),(46,0.28),(52,0.24),(56,0.19),(57,0.17),(66,0.15),(73,0.095),(80,0.14),(90,0.12),(95,0.13),(22,0.48),(26,0.44),(32,0.38),(38,0.34),(44,0.3),(50,0.26),(60,0.2),(70,0.17)]
r_brent = [(2,1),(3,1),(4,0.93),(5,0.89),(6.1,0.84),(7,0.8),(8,0.77),(10,0.72),(12,0.67),(14,0.63),(16,0.59),(18,0.56),(21,0.52),(24,0.49),(28,0.45),(32,0.42),(36,0.38),(38.5,0.31),(42,0.34),(48,0.32),(52,0.28),(57,0.29),(60,0.25),(66,0.22),(72,0.2),(81,0.18),(81,0.17),(23,0.48),(26,0.46),(30,0.42),(34,0.38),(40,0.34),(44,0.3),(50,0.27),(55,0.24),(62,0.21),(70,0.19),(76,0.16)]

s_sc = [(2,1),(3,0.94),(4,0.89),(5,0.87),(6.4,0.83),(8.1,0.83),(10,0.74),(12,0.66),(13.6,0.53),(16,0.6),(19,0.55),(22,0.5),(24,0.35),(27,0.46),(31,0.42),(36.6,0.29),(38.5,0.18),(40,0.38),(43,0.53),(43,0.165),(50,0.34),(57,0.18),(62,0.3),(70,0.26),(86,0.165),(14,0.58),(18,0.5),(21,0.46),(25,0.42),(29,0.38),(33,0.35),(38,0.31),(46,0.28),(55,0.24),(65,0.2),(75,0.2)]
s_wti = [(2,1),(3,0.99),(4,0.9),(5,0.86),(6,0.82),(7.5,0.77),(9,0.72),(10,0.68),(12,0.64),(14,0.6),(17,0.56),(20,0.52),(24,0.48),(28,0.44),(32,0.4),(37,0.37),(42,0.34),(48,0.31),(55,0.28),(64,0.35),(70,0.24),(77,0.21),(90,0.256),(100,0.2),(108,0.26),(122,0.09),(130,0.2),(15,0.56),(18,0.52),(22,0.48),(26,0.44),(30,0.41),(35,0.37),(40,0.31),(45,0.28),(52,0.26),(60,0.24),(66,0.2),(75,0.19),(85,0.2),(95,0.17),(115,0.18)] + \
        [(36,0.33),(44,0.3),(56,0.25),(70,0.21),(90,0.18)]
s_brent = [(2,1),(3,1),(4,0.9),(5,0.87),(6,0.84),(7,0.8),(8.5,0.76),(10,0.72),(12,0.67),(14,0.63),(16,0.59),(19,0.55),(22,0.51),(25,0.48),(29,0.45),(32,0.53),(34,0.42),(39,0.39),(45,0.36),(51,0.33),(58,0.3),(66,0.27),(74,0.24),(81,0.144),(90,0.22),(100,0.114),(110,0.2),(122,0.15),(144,0.21),(150,0.185),(135,0.19),(18,0.5),(21,0.47),(24,0.44),(27,0.41),(31,0.38),(36,0.35),(41,0.33),(47,0.3),(54,0.28),(62,0.25),(70,0.23),(78,0.21),(85,0.19),(95,0.17),(105,0.16),(115,0.15),(130,0.17),(140,0.16)] + \
          [(34,0.38),(42,0.33),(50,0.3),(58,0.27),(68,0.24),(80,0.2),(95,0.18),(120,0.16)]

t_sc = [(2,1),(3,0.97),(4,0.86),(5,0.81),(6.8,0.74),(8.5,0.67),(10,0.59),(12,0.63),(14.7,0.6),(17,0.52),(20.4,0.39),(23,0.47),(27,0.42),(30,0.38),(33,0.35),(37,0.24),(42,0.3),(48,0.27),(55,0.25),(76,0.12),(13,0.55),(16,0.5),(19,0.46),(22,0.42),(26,0.38),(30,0.33),(35,0.3),(40,0.27),(45,0.24),(50,0.22),(60,0.2)]
t_wti = [(2,1),(3,0.97),(4,0.87),(5,0.82),(6,0.78),(7.5,0.74),(9,0.7),(11,0.66),(13,0.62),(16,0.58),(19.4,0.55),(22,0.5),(25,0.54),(28,0.49),(32,0.44),(36,0.4),(40,0.37),(45,0.34),(50,0.31),(55,0.2),(61,0.41),(61,0.21),(66,0.28),(72,0.16),(76,0.39),(82,0.24),(90,0.26),(100,0.22),(106,0.097),(111,0.19),(124,0.18),(17,0.52),(21,0.47),(26,0.42),(30,0.38),(35,0.34),(42,0.3),(48,0.27),(56,0.24),(62,0.25),(70,0.22),(80,0.19),(95,0.18),(110,0.15),(120,0.14)] + \
        [(45,0.3),(52,0.27),(65,0.22),(85,0.2),(105,0.17)]
t_brent = [(2,1),(3,0.97),(4,0.86),(5,0.81),(6,0.78),(7,0.75),(8.5,0.7),(10,0.66),(12,0.62),(14,0.58),(16,0.55),(19,0.51),(22,0.48),(25,0.45),(29,0.42),(33,0.39),(38,0.37),(44,0.37),(50,0.34),(55,0.32),(62,0.28),(70,0.25),(76,0.23),(85,0.21),(94,0.13),(100,0.18),(106,0.12),(111,0.16),(120,0.14),(18,0.5),(21,0.46),(24,0.42),(28,0.39),(32,0.36),(36,0.34),(41,0.32),(46,0.3),(52,0.28),(58,0.26),(64,0.24),(72,0.22),(80,0.2),(88,0.18),(96,0.16),(110,0.14),(125,0.12)] + \
          [(40,0.34),(48,0.3),(56,0.27),(66,0.24),(78,0.21),(90,0.19),(100,0.16),(115,0.13)]

labels_top = ["SC-SP", "SC-CP", "WTI", "BRENT"]
labels_low = ["SC", "WTI", "BRENT"]

# ---- styles ----
GREEN, MAG, BLUE, GRAY = "#1f9a1f", "#e020e0", "#2222d6", "#ababab"
sty_top = [("circle-open", GREEN, "○"), ("diamond-open", MAG, "◇"),
           ("square-open", BLUE, "□"), ("triangle-left-open", GRAY, "◁")]
sty_low = [("circle-open", BLUE, "○"), ("diamond-open", MAG, "◇"),
           ("square-open", GREEN, "□")]

# panel boxes in px: left, right, top, bottom, log10 x max, log10 y min
panels = [
    ("a", 20, 167, 4, 113, 2.0, -1.08, [a_scsp, a_sccp, a_wti, a_brent]),
    ("b", 192, 337, 4, 113, 2.1, -1.08, [b_scsp, b_sccp, b_wti, b_brent]),
    ("c", 369, 520, 4, 113, 1.6, -1.0, [c_scsp, c_sccp, c_wti, c_brent]),
    ("d", 547, 695, 4, 113, 1.78, -1.0, [d_scsp, d_sccp, d_wti, d_brent]),
    ("e", 720, 867, 4, 113, 2.35, -1.08, [e_scsp, e_sccp, e_wti, e_brent]),
    ("f", 21, 165, 135, 248, 3.0, -1.5, [f_sc, f_wti, f_brent]),
    ("g", 193, 338, 135, 248, 3.0, -1.44, [g_sc, g_wti, g_brent]),
    ("h", 363, 513, 135, 248, 2.42, -1.22, [h_sc, h_wti, h_brent]),
    ("i", 539, 683, 135, 248, 3.0, -1.38, [i_sc, i_wti, i_brent]),
    ("j", 719, 866, 135, 248, 3.0, -1.27, [j_sc, j_wti, j_brent]),
    ("k", 19, 165, 272, 382, 2.32, -1.31, [k_sc, k_wti, k_brent]),
    ("l", 193, 342, 272, 382, 3.0, -1.25, [l_sc, l_wti, l_brent]),
    ("m", 369, 518, 272, 382, 2.16, -1.05, [m_sc, m_wti, m_brent]),
    ("n", 544, 695, 272, 382, 2.38, -1.03, [n_sc, n_wti, n_brent]),
    ("o", 721, 869, 272, 382, 2.3, -1.07, [o_sc, o_wti, o_brent]),
    ("p", 20, 167, 405, 515, 2.18, -1.12, [p_sc, p_wti, p_brent]),
    ("q", 193, 342, 405, 515, 2.13, -1.2, [q_sc, q_wti, q_brent]),
    ("r", 370, 518, 405, 515, 2.05, -1.02, [r_sc, r_wti, r_brent]),
    ("s", 545, 694, 405, 515, 2.19, -1.03, [s_sc, s_wti, s_brent]),
    ("t", 722, 869, 405, 515, 2.1, -1.02, [t_sc, t_wti, t_brent]),
]

px = lambda v: v / W
py = lambda v: 1 - v / H

fig = go.Figure()
annos = []
SERIF = "Liberation Serif"
sup = lambda p: "10<sup>%s</sup>" % (str(p) if p >= 0 else "\u2212" + str(-p))
minor_vals = [m * 10 ** e for e in range(-2, 3) for m in range(2, 10)]

for n, (tag, l, r, t, b, xr, yb, series) in enumerate(panels, start=1):
    suf = "" if n == 1 else str(n)
    top = len(series) == 4
    styles = sty_top if top else sty_low
    names = labels_top if top else labels_low
    for data, (sym, col, _), name in zip(series, styles, names):
        ks, cs = zip(*data)
        fig.add_trace(go.Scatter(
            x=ks, y=cs, mode="markers", name=name, showlegend=False,
            xaxis="x" + suf, yaxis="y" + suf, cliponaxis=False,
            marker=dict(symbol=sym, size=5.5, color=col, line=dict(width=1, color=col))))

    xt = [e for e in range(0, 4) if e <= xr + 1e-6]
    yt = [e for e in range(-2, 1) if e >= yb - 1e-6]
    common = dict(type="log", showgrid=False, zeroline=False, showline=True,
                  linecolor="#8c8c8c", linewidth=1, mirror=True, ticks="inside",
                  ticklen=3, tickcolor="#8c8c8c", tickfont=dict(size=5, color="#555", family=SERIF),
                  minor=dict(ticks="inside", ticklen=1.5, tickcolor="#aaaaaa", tickvals=minor_vals))
    fig.update_layout({
        "xaxis" + suf: dict(common, domain=[px(l), px(r)], anchor="y" + suf, range=[0, xr],
                            tickvals=[10 ** e for e in xt], ticktext=[sup(e) for e in xt]),
        "yaxis" + suf: dict(common, domain=[py(b), py(t)], anchor="x" + suf, range=[yb, 0],
                            tickvals=[10 ** e for e in yt], ticktext=[sup(e) for e in yt]),
    })

    # panel letter
    annos.append(dict(text="(%s)" % tag, x=px(l + 3), y=py(t + 4), xref="paper", yref="paper",
                      xanchor="left", yanchor="top", showarrow=False,
                      font=dict(family="Liberation Sans", size=13, color="#111")))
    # axis titles
    annos.append(dict(text="<i>k</i><sub>i</sub>", x=px((l + r) / 2), y=py(b + 6),
                      xref="paper", yref="paper", xanchor="center", yanchor="top",
                      showarrow=False, font=dict(family=SERIF, size=8, color="#222")))
    annos.append(dict(text="\u27e8<i>c</i><sub>i</sub>|<i>k</i><sub>i</sub>\u27e9",
                      x=px(l - 13), y=py((t + b) / 2), xref="paper", yref="paper",
                      xanchor="center", yanchor="middle", textangle=-90, showarrow=False,
                      font=dict(family=SERIF, size=8, color="#222")))

    # legend: one framed block of text lines, glyph coloured per series
    lines = ["<span style='color:%s'>%s</span>\u00a0\u00a0\u00a0%s" % (col, glyph, name)
             for (_, col, glyph), name in zip(styles, names)]
    annos.append(dict(text="<br>".join(lines), x=px(l + 3), y=py(b - 3),
                      xref="paper", yref="paper", xanchor="left", yanchor="bottom",
                      align="left", showarrow=False, bgcolor="white",
                      bordercolor="#777", borderwidth=0.8, borderpad=1.5,
                      font=dict(family=SERIF, size=6, color="#333")))

fig.update_layout(width=W, height=H, margin=dict(l=0, r=0, t=0, b=0),
                  paper_bgcolor="white", plot_bgcolor="white",
                  annotations=annos, showlegend=False)

fig.write_html("out.html")
